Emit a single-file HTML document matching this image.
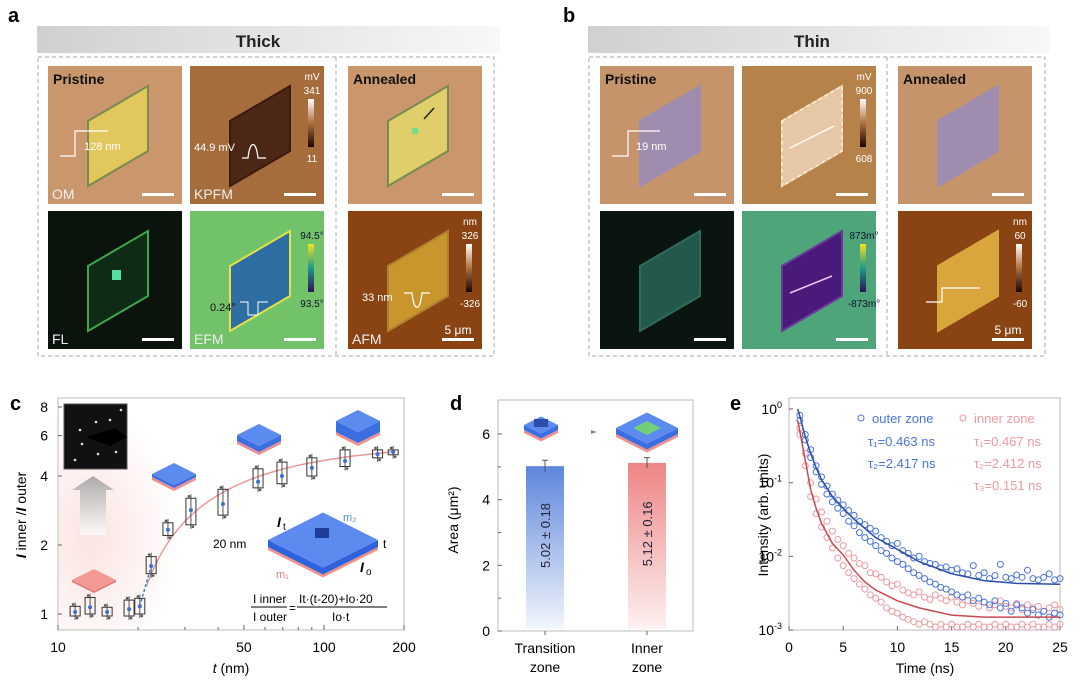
<!DOCTYPE html>
<html><head><meta charset="utf-8">
<style>
html,body{margin:0;padding:0;background:#fff;overflow:hidden;width:1080px;height:685px;}
svg{display:block;overflow:hidden;font-family:"Liberation Sans",Arial,sans-serif;}
</style></head>
<body>
<svg id="fig" width="1080" height="685" viewBox="0 0 1080 685" xmlns="http://www.w3.org/2000/svg">
<defs>
<linearGradient id="hdrA" x1="0" x2="1"><stop offset="0" stop-color="#d0d0d0"/><stop offset="1" stop-color="#f8f8f8"/></linearGradient>
<linearGradient id="barBlue" x1="0" y1="0" x2="0" y2="1"><stop offset="0" stop-color="#5d86dc"/><stop offset="1" stop-color="#f3f6fd"/></linearGradient>
<linearGradient id="barRed" x1="0" y1="0" x2="0" y2="1"><stop offset="0" stop-color="#ee8585"/><stop offset="1" stop-color="#fdf1f1"/></linearGradient>
<linearGradient id="cbKpfm" x1="0" y1="0" x2="0" y2="1"><stop offset="0" stop-color="#fff"/><stop offset="0.5" stop-color="#b07040"/><stop offset="1" stop-color="#1a0500"/></linearGradient>
<linearGradient id="cbVir" x1="0" y1="0" x2="0" y2="1"><stop offset="0" stop-color="#f4e21c"/><stop offset="0.5" stop-color="#1f9a8a"/><stop offset="1" stop-color="#30125e"/></linearGradient>
<linearGradient id="arrowG" x1="0" y1="1" x2="0" y2="0"><stop offset="0" stop-color="#fff"/><stop offset="1" stop-color="#999"/></linearGradient>
<radialGradient id="pinkBg" cx="0.2" cy="0.6" r="0.6"><stop offset="0" stop-color="#fbe3e0"/><stop offset="1" stop-color="#fff"/></radialGradient>
</defs>

<text x="8" y="22" font-size="20" font-weight="bold">a</text>
<text x="563" y="22" font-size="20" font-weight="bold">b</text>
<text x="10" y="410" font-size="20" font-weight="bold">c</text>
<text x="450" y="410" font-size="20" font-weight="bold">d</text>
<text x="730" y="410" font-size="20" font-weight="bold">e</text>

<rect x="37" y="26" width="463" height="27" fill="url(#hdrA)"/>
<text x="258" y="47" font-size="17" font-weight="bold" text-anchor="middle" fill="#222">Thick</text>
<rect x="38" y="57" width="456" height="299" fill="none" stroke="#aaa" stroke-dasharray="4,3"/>
<line x1="336" y1="57" x2="336" y2="356" stroke="#aaa" stroke-dasharray="4,3"/>
<rect x="588" y="26" width="462" height="27" fill="url(#hdrA)"/>
<text x="812" y="47" font-size="17" font-weight="bold" text-anchor="middle" fill="#222">Thin</text>
<rect x="589" y="57" width="456" height="299" fill="none" stroke="#aaa" stroke-dasharray="4,3"/>
<line x1="887" y1="57" x2="887" y2="356" stroke="#aaa" stroke-dasharray="4,3"/>

<g id="images"></g>
<g id="panelC"></g>
<g id="panelD"></g>
<g id="panelE"></g>
</svg>

<script>
// ---------- Panel c data ----------
const cThick = [11.6, 13.2, 15.3, 18.5, 20.3, 22.4, 25.9, 31.6, 41.7, 56.5, 69.5, 90, 120, 159, 182];
const cMedian = [1.02, 1.07, 1.02, 1.05, 1.08, 1.62, 2.33, 2.84, 3.02, 3.77, 4.0, 4.34, 4.65, 4.98, 5.09];
const cLow = [0.98, 1.0, 0.98, 0.98, 1.0, 1.5, 2.2, 2.45, 2.7, 3.55, 3.7, 4.0, 4.4, 4.8, 4.95];
const cHigh = [1.08, 1.18, 1.07, 1.15, 1.17, 1.78, 2.5, 3.2, 3.5, 4.3, 4.6, 4.8, 5.2, 5.2, 5.2];
const cXTicks = [10, 50, 100, 200];
const cYTicks = [1, 2, 4, 6, 8];
const cFitRatio = [5.6];
// ---------- Panel d data ----------
const dCats = ["Transition", "Inner"];
const dCats2 = ["zone", "zone"];
const dVals = [5.02, 5.12];
const dErr = [0.18, 0.16];
const dYTicks = [0, 2, 4, 6];
// ---------- Panel e data ----------
const eTimes = [1,1.5,2,2.5,3,3.5,4,4.5,5,5.5,6,6.5,7,7.5,8,8.5,9,9.5,10,10.5,11,11.5,12,12.5,13,13.5,14,14.5,15,15.5,16,16.5,17,17.5,18,18.5,19,19.5,20,20.5,21,21.5,22,22.5,23,23.5,24,24.5,25];
const eOuterA = [0.82,0.45,0.28,0.17,0.12,0.09,0.07,0.058,0.05,0.042,0.036,0.03,0.027,0.024,0.022,0.018,0.016,0.014,0.015,0.012,0.011,0.0095,0.01,0.0085,0.008,0.0078,0.007,0.0072,0.0065,0.0068,0.006,0.0058,0.0075,0.0055,0.006,0.005,0.0055,0.0078,0.0052,0.005,0.0056,0.0052,0.0065,0.005,0.0048,0.0052,0.0058,0.0048,0.005];
const eOuterB = [0.7,0.38,0.22,0.14,0.095,0.07,0.055,0.045,0.038,0.03,0.026,0.021,0.018,0.016,0.014,0.012,0.011,0.0095,0.0085,0.0078,0.0068,0.006,0.0055,0.005,0.0045,0.0042,0.0038,0.0036,0.0033,0.003,0.0028,0.003,0.0025,0.0027,0.0024,0.0022,0.0025,0.002,0.0023,0.0018,0.0022,0.002,0.0017,0.0019,0.0016,0.0018,0.0015,0.0017,0.0016];
const eInnerA = [0.55,0.25,0.1,0.06,0.04,0.03,0.022,0.017,0.014,0.011,0.0095,0.008,0.0075,0.006,0.0058,0.0052,0.0045,0.004,0.0042,0.0035,0.0032,0.003,0.0033,0.0028,0.0026,0.003,0.0027,0.0025,0.0028,0.0024,0.0022,0.0025,0.0023,0.0021,0.0024,0.002,0.0022,0.0025,0.0021,0.002,0.0023,0.0019,0.0022,0.002,0.0021,0.0018,0.002,0.0022,0.0019];
const eInnerB = [0.45,0.17,0.065,0.038,0.025,0.018,0.013,0.0095,0.0075,0.006,0.005,0.0042,0.0036,0.003,0.0027,0.0024,0.002,0.0018,0.0017,0.0015,0.0014,0.0013,0.0012,0.0013,0.0012,0.0011,0.0012,0.0011,0.0012,0.0011,0.0011,0.0012,0.0011,0.0012,0.0011,0.0011,0.0012,0.0011,0.0012,0.0011,0.0011,0.0012,0.0011,0.0012,0.0011,0.0011,0.0012,0.0011,0.0012];
const eFitT = [0.8,1,1.5,2,2.5,3,4,5,6,7,8,10,12,15,18,21,25];
const eFitOuter = [1,0.8,0.42,0.25,0.16,0.11,0.065,0.045,0.032,0.024,0.018,0.0125,0.0085,0.0058,0.0047,0.0043,0.0042];
const eFitInner = [0.7,0.5,0.2,0.08,0.045,0.028,0.015,0.0105,0.0065,0.0045,0.0035,0.0025,0.002,0.0016,0.0015,0.0015,0.0015];
const eXTicks = [0,5,10,15,20,25];
const eYExp = [0,-1,-2,-3];

const NS = "http://www.w3.org/2000/svg";
function mk(tag, attrs, parent, text){
  const e = document.createElementNS(NS, tag);
  for (const k in attrs) e.setAttribute(k, attrs[k]);
  if (text !== undefined) e.textContent = text;
  parent.appendChild(e);
  return e;
}

const imgG = document.getElementById('images');
const flake = (x,y)=>`${x+40},${y+55} ${x+100},${y+20} ${x+100},${y+85} ${x+40},${y+120}`;
const tiles = [
  {x:48,y:66,bg:"#c9976b",fl:"#e2c85c",st:"#7a8a50",lab:"OM",title:"Pristine",n:"thick-om-image"},
  {x:190,y:66,bg:"#a56c3c",fl:"#4d2716",st:"#3a1a0c",lab:"KPFM",n:"thick-kpfm-image",cb:["mV","341","11","cbKpfm"]},
  {x:348,y:66,bg:"#c9976b",fl:"#e0ce6a",st:"#7a8a50",title:"Annealed",n:"thick-annealed-om-image"},
  {x:48,y:211,bg:"#0b130d",fl:"#0f2a15",st:"#3fa54a",lab:"FL",n:"thick-fl-image"},
  {x:190,y:211,bg:"#72c26a",fl:"#2f6ea2",st:"#e5e04a",lab:"EFM",n:"thick-efm-image",cb:["","94.5°","93.5°","cbVir"]},
  {x:348,y:211,bg:"#8a4414",fl:"#c9962e",st:"#b08030",lab:"AFM",n:"thick-afm-image",cb:["nm","326","-326","cbKpfm"],scale:"5 μm"},
  {x:600,y:66,bg:"#c5946a",fl:"#9f8db0",st:"#9f8db0",title:"Pristine",n:"thin-om-image"},
  {x:742,y:66,bg:"#b5824a",fl:"#e6c7a6",st:"#e6c7a6",n:"thin-kpfm-image",cb:["mV","900","608","cbKpfm"]},
  {x:898,y:66,bg:"#c5946a",fl:"#9f8db0",st:"#9f8db0",title:"Annealed",n:"thin-annealed-om-image"},
  {x:600,y:211,bg:"#0a150f",fl:"#23594c",st:"#2f6a5a",n:"thin-fl-image"},
  {x:742,y:211,bg:"#4ea57a",fl:"#4a1a7a",st:"#6a3a9a",n:"thin-efm-image",cb:["","873m°","-873m°","cbVir"]},
  {x:898,y:211,bg:"#8a4414",fl:"#d8a63c",st:"#d8a63c",n:"thin-afm-image",cb:["nm","60","-60","cbKpfm"],scale:"5 μm"}
];
tiles.forEach(t=>{
  const g = mk('g',{},imgG);
  
  
  mk('rect',{x:t.x,y:t.y,width:134,height:138,fill:t.bg},g);
  mk('polygon',{points:flake(t.x,t.y),fill:t.fl,stroke:t.st,'stroke-width':2},g);
  mk('rect',{x:t.x+94,y:t.y+127,width:32,height:3,fill:'#fff'},g);
  if (t.title) mk('text',{x:t.x+5,y:t.y+18,'font-size':14,'font-weight':'bold',fill:'#111'},g,t.title);
  if (t.lab) mk('text',{x:t.x+4,y:t.y+133,'font-size':14,fill:'#eee'},g,t.lab);
  if (t.scale) mk('text',{x:t.x+110,y:t.y+123,'font-size':12,fill:'#fff','text-anchor':'middle'},g,t.scale);
  if (t.cb){
    mk('text',{x:t.x+122,y:t.y+14,'font-size':10,fill:'#fff','text-anchor':'middle'},g,t.cb[0]);
    mk('text',{x:t.x+122,y:t.y+28,'font-size':10,fill:t.cb[3]=='cbVir'?'#113':'#fff','text-anchor':'middle'},g,t.cb[1]);
    mk('rect',{x:t.x+118,y:t.y+33,width:6,height:48,fill:'url(#'+t.cb[3]+')'},g);
    mk('text',{x:t.x+122,y:t.y+96,'font-size':10,fill:t.cb[3]=='cbVir'?'#113':'#fff','text-anchor':'middle'},g,t.cb[2]);
  }
});
const ann = document.createElementNS(NS,'g'); imgG.appendChild(ann);
mk('path',{d:'M60 156 H75 V131 H108',fill:'none',stroke:'#fff','stroke-width':1.2},ann);
mk('text',{x:84,y:150,'font-size':11,fill:'#fff'},ann,'128 nm');
mk('text',{x:194,y:151,'font-size':11,fill:'#fff'},ann,'44.9 mV');
mk('path',{d:'M242 158 H248 C250 140 256 140 258 158 H266',fill:'none',stroke:'#fff','stroke-width':1.2},ann);
mk('rect',{x:412,y:128,width:6,height:6,fill:'#6ee08a'},ann);
mk('line',{x1:434,y1:108,x2:424,y2:119,stroke:'#222','stroke-width':1.5},ann);
mk('rect',{x:112,y:270,width:9,height:10,fill:'#4fe0a0'},ann);
mk('text',{x:210,y:311,'font-size':11,fill:'#111'},ann,'0.24°');
mk('path',{d:'M240 302 H248 V315 H258 V302 H268',fill:'none',stroke:'#fff','stroke-width':1},ann);
mk('text',{x:362,y:301,'font-size':11,fill:'#fff'},ann,'33 nm');
mk('path',{d:'M404 293 H412 C414 312 420 312 422 293 H430',fill:'none',stroke:'#fff','stroke-width':1.2},ann);
mk('path',{d:'M612 156 H628 V131 H660',fill:'none',stroke:'#fff','stroke-width':1.2},ann);
mk('text',{x:636,y:150,'font-size':11,fill:'#fff'},ann,'19 nm');
mk('polygon',{points:'782,121 842,86 842,151 782,186',fill:'none',stroke:'#fff0d0','stroke-dasharray':'4,3','stroke-width':1.5},ann);
mk('path',{d:'M790 148 L834 126',stroke:'#fff','stroke-width':1.5},ann);
mk('path',{d:'M790 293 L832 276',stroke:'#f0c0f0','stroke-width':1.5},ann);
mk('path',{d:'M926 302 H942 V288 H980',fill:'none',stroke:'#fff','stroke-width':1.2},ann);

// ---------- Panel c ----------
const C = document.getElementById('panelC');
const cL=58, cR=404, cT=398, cB=630, cDec=266, cOct=69;
const cx = t => cL + cDec*Math.log10(t/10);
const cy = v => 614 - cOct*Math.log2(v);
mk('rect',{x:cL,y:cT,width:cR-cL,height:cB-cT,fill:'#fff',stroke:'#bbb'},C);
mk('rect',{x:cL+1,y:cT+1,width:150,height:cB-cT-2,fill:'url(#pinkBg)'},C);
mk('rect',{x:64,y:404,width:63,height:65,fill:'#111',stroke:'#555'},C);
mk('path',{d:'M86 437 L115 428 L127 437 L110 446 Z',fill:'#000'},C);
[[80,430],[82,444],[96,422],[98,454],[110,420],[116,452],[75,460],[121,410]].forEach(p=>mk('circle',{cx:p[0],cy:p[1],r:1.3,fill:'#ddd'},C));
mk('path',{d:'M80 535 L80 490 L72 490 L93 476 L114 490 L106 490 L106 535 Z',fill:'url(#arrowG)',opacity:0.8},C);
function slab(g,cxm,cym,w,h,topC,botC,pink){
  const hw=w/2, hh=w/4;
  if(pink){ mk('polygon',{points:`${cxm-hw},${cym+h} ${cxm},${cym+hh+h} ${cxm+hw},${cym+h} ${cxm+hw},${cym+h+3} ${cxm},${cym+hh+h+3} ${cxm-hw},${cym+h+3}`,fill:'#f0908c'},g);}
  mk('polygon',{points:`${cxm-hw},${cym} ${cxm},${cym+hh} ${cxm+hw},${cym} ${cxm+hw},${cym+h} ${cxm},${cym+hh+h} ${cxm-hw},${cym+h}`,fill:botC},g);
  mk('polygon',{points:`${cxm-hw},${cym} ${cxm},${cym-hh} ${cxm+hw},${cym} ${cxm},${cym+hh}`,fill:topC},g);
}
const sg = mk('g',{},C);


slab(sg,94,580,44,2,'#f49a94','#e07a78',false);
slab(sg,174,474,44,3,'#5b8bef','#3b6ee0',true);
slab(sg,259,435,44,6,'#5b8bef','#3b6ee0',true);
slab(sg,358,421,44,11,'#5b8bef','#3b6ee0',true);
slab(sg,323,540,110,7,'#5b8bef','#2f63dc',true);
mk('rect',{x:315,y:528,width:14,height:10,fill:'#1f3e9a'},sg);
mk('text',{x:343,y:521,'font-size':11,fill:'#4a90c8'},C,'m₂');
mk('text',{x:276,y:578,'font-size':11,fill:'#e08080'},C,'m₁');
mk('text',{x:277,y:527,'font-size':14,'font-style':'italic','font-weight':'bold'},C,'I');
mk('text',{x:283,y:530,'font-size':10},C,'t');
mk('text',{x:213,y:548,'font-size':12},C,'20 nm');
mk('text',{x:383,y:548,'font-size':12},C,'t');
mk('text',{x:360,y:572,'font-size':14,'font-style':'italic','font-weight':'bold'},C,'I');
mk('text',{x:366,y:575,'font-size':10},C,'o');
const fm = mk('g',{'font-size':12},C);


mk('text',{x:253,y:603},fm,'I inner');
mk('text',{x:253,y:621},fm,'I outer');
mk('line',{x1:251,y1:607,x2:287,y2:607,stroke:'#000'},fm);
mk('text',{x:289,y:612},fm,'=');
mk('text',{x:299,y:603},fm,'It·(t-20)+Io·20');
mk('line',{x1:297,y1:607,x2:387,y2:607,stroke:'#000'},fm);
mk('text',{x:332,y:621},fm,'Io·t');
[10,20,30,40,50,60,70,80,90,100,200].forEach(t=>mk('line',{x1:cx(t),y1:cB,x2:cx(t),y2:cB-(cXTicks.includes(t)?5:3),stroke:'#666'},C));
cXTicks.forEach(t=>{ const e=mk('text',{x:cx(t),y:652,'font-size':14,'text-anchor':'middle'},C,String(t));  });
cYTicks.forEach(v=>{ mk('line',{x1:cL,y1:cy(v),x2:cL+4,y2:cy(v),stroke:'#666'},C); const e=mk('text',{x:48,y:cy(v)+5,'font-size':14,'text-anchor':'end'},C,String(v));  });
const xlc = mk('text',{x:231,y:673,'font-size':14,'text-anchor':'middle'},C); xlc.innerHTML='<tspan font-style="italic">t</tspan> (nm)';
 
const ylc = mk('text',{x:0,y:0,'font-size':14,'text-anchor':'middle',transform:'translate(26,515) rotate(-90)'},C);
ylc.innerHTML='<tspan font-weight="bold" font-style="italic">I</tspan> inner /<tspan font-weight="bold" font-style="italic">I</tspan> outer';
 
const R = cFitRatio[0];
let dFit='';
for(let t=21.5;t<=185;t*=1.03){ const v=R-(R-1)*20/t; dFit+=(dFit?'L':'M')+cx(t).toFixed(1)+' '+cy(v).toFixed(1);}
const fitC = mk('path',{d:dFit,fill:'none',stroke:'#e79a9a','stroke-width':1.5},C);
 
mk('path',{d:`M${cx(20.3)} ${cy(1.08)} L${cx(22.4)} ${cy(1.62)}`,stroke:'#3a8ad0','stroke-dasharray':'3,2','stroke-width':1.5},C);
cThick.forEach((t,i)=>{
  const b = mk('g',{},C);
  
  
  const x=cx(t);
  mk('line',{x1:x,y1:cy(cLow[i]*0.96),x2:x,y2:cy(cHigh[i]*1.04),stroke:'#555'},b);
  mk('rect',{x:x-5,y:cy(cHigh[i]),width:10,height:cy(cLow[i])-cy(cHigh[i]),fill:'none',stroke:'#333'},b);
  mk('circle',{cx:x,cy:cy(cMedian[i]),r:2,fill:'#3a6ed8'},b);
  mk('circle',{cx:x-2,cy:cy(cHigh[i]*1.02),r:1.3,fill:'#555'},b);
  mk('circle',{cx:x+2,cy:cy(cLow[i]*0.98),r:1.3,fill:'#555'},b);
});

// ---------- Panel d ----------
const D = document.getElementById('panelD');
const dL=498, dR=693, dT=400, dB=631, dU=(631-434)/6;
const dy = v => dB - v*dU;
const dX = [545, 647];
mk('rect',{x:dL,y:dT,width:dR-dL,height:dB-dT,fill:'#fff',stroke:'#bbb'},D);
dYTicks.forEach(v=>{ mk('line',{x1:dL,y1:dy(v),x2:dL+4,y2:dy(v),stroke:'#666'},D); const e=mk('text',{x:490,y:dy(v)+5,'font-size':14,'text-anchor':'end'},D,String(v));  });
[1,3,5].forEach(v=>mk('line',{x1:dL,y1:dy(v),x2:dL+3,y2:dy(v),stroke:'#666'},D));
const yld = mk('text',{x:0,y:0,'font-size':14,'text-anchor':'middle',transform:'translate(458,520) rotate(-90)'},D,'Area (μm²)');
 
dVals.forEach((v,i)=>{
  const x=dX[i];
  const bar = mk('rect',{x:x-19,y:dy(v),width:38,height:dB-dy(v)-2,fill:i?'url(#barRed)':'url(#barBlue)'},D);
  
  
  mk('line',{x1:x,y1:dy(v+dErr[i]),x2:x,y2:dy(v-dErr[i]),stroke:'#555'},D);
  mk('line',{x1:x-3,y1:dy(v+dErr[i]),x2:x+3,y2:dy(v+dErr[i]),stroke:'#555'},D);
  const lab = mk('text',{x:0,y:0,'font-size':13,'text-anchor':'middle',fill:'#223',transform:`translate(${x+5},${dy(v/2+0.4)}) rotate(-90)`},D,v.toFixed(2)+' ± '+dErr[i].toFixed(2));
   
  mk('line',{x1:x,y1:dB,x2:x,y2:dB+4,stroke:'#666'},D);
  const c1=mk('text',{x:x,y:653,'font-size':14,'text-anchor':'middle'},D,dCats[i]);  
  mk('text',{x:x,y:672,'font-size':14,'text-anchor':'middle'},D,dCats2[i]);
});
const dg = mk('g',{},D);
 
slab(dg,541,425,34,5,'#5b8bef','#3b6ee0',true);
mk('rect',{x:534,y:419,width:14,height:8,fill:'#2a4ea8'},dg);
mk('polygon',{points:'591,430 597,432 591,434',fill:'#888'},dg);
slab(dg,647,428,62,6,'#5b8bef','#3b6ee0',true);
mk('polygon',{points:'633,428 647,421 661,428 647,435',fill:'#6fd07a'},dg);

// ---------- Panel e ----------
const E = document.getElementById('panelE');
const eL=789, eR=1060, eT=398, eB=630, eDec=73.7;
const ex = t => eL + t*(eR-eL)/25;
const ey = v => 409 - eDec*Math.log10(v);
mk('rect',{x:eL,y:eT,width:eR-eL,height:eB-eT,fill:'#fff',stroke:'#bbb'},E);
eXTicks.forEach(t=>{ mk('line',{x1:ex(t),y1:eB,x2:ex(t),y2:eB-4,stroke:'#666'},E); const e=mk('text',{x:ex(t),y:652,'font-size':14,'text-anchor':'middle'},E,String(t));  });
eYExp.forEach(p=>{ mk('line',{x1:eL,y1:ey(Math.pow(10,p)),x2:eL+4,y2:ey(Math.pow(10,p)),stroke:'#666'},E); const e=mk('text',{x:782,y:ey(Math.pow(10,p))+5,'font-size':14,'text-anchor':'end'},E); e.innerHTML='10<tspan font-size="9" dy="-6">'+p+'</tspan>';  });
const xle = mk('text',{x:925,y:673,'font-size':14,'text-anchor':'middle'},E,'Time (ns)');
 
const yle = mk('text',{x:0,y:0,'font-size':14,'text-anchor':'middle',transform:'translate(768,515) rotate(-90)'},E,'Intensity (arb. units)');
 
function scatter(arr,col,name){
  const g = mk('g',{},E);
  
  
  eTimes.forEach((t,i)=>{ if(arr[i]===undefined) return; mk('circle',{cx:ex(t),cy:Math.min(eB-2,ey(arr[i])),r:3,fill:'none',stroke:col,'stroke-width':1},g);});
}
scatter(eInnerA,'#ec9a9e','inner-zone-points');
scatter(eInnerB,'#ec9a9e','inner-zone-points-low');
scatter(eOuterA,'#4a74da','outer-zone-points');
scatter(eOuterB,'#4a74da','outer-zone-points-low');
function fitLine(vals,col,name){
  let d=''; eFitT.forEach((t,i)=>{ d+=(i?'L':'M')+ex(t).toFixed(1)+' '+ey(vals[i]).toFixed(1);});
  const p=mk('path',{d:d,fill:'none',stroke:col,'stroke-width':1.5},E);
   
}
fitLine(eFitOuter,'#2a4fa8','outer-fit-line');
fitLine(eFitInner,'#c84a50','inner-fit-line');
const lg = mk('g',{'font-size':13},E);
 
mk('circle',{cx:861,cy:418,r:3,fill:'none',stroke:'#4a74da'},lg);
mk('text',{x:872,y:423,fill:'#4a74da'},lg,'outer zone');
mk('circle',{cx:963,cy:418,r:3,fill:'none',stroke:'#ec9a9e'},lg);
mk('text',{x:974,y:423,fill:'#ec9a9e'},lg,'inner zone');
mk('text',{x:868,y:446,fill:'#4a74da'},lg,'τ₁=0.463 ns');
mk('text',{x:868,y:468,fill:'#4a74da'},lg,'τ₂=2.417 ns');
mk('text',{x:974,y:446,fill:'#ec9a9e'},lg,'τ₁=0.467 ns');
mk('text',{x:974,y:468,fill:'#ec9a9e'},lg,'τ₂=2.412 ns');
mk('text',{x:974,y:490,fill:'#ec9a9e'},lg,'τ₃=0.151 ns');
</script>
</body></html>
